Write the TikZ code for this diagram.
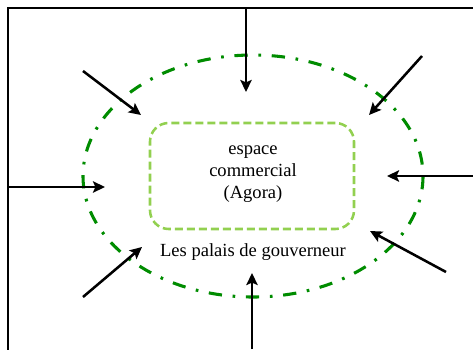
\documentclass[tikz,border=0pt]{standalone}
\usepackage{fontspec}
\setmainfont{Liberation Serif}
\usetikzlibrary{arrows.meta}
\definecolor{dkgreen}{RGB}{0,140,0}
\definecolor{ltgreen}{RGB}{146,208,80}
\tikzset{
  frameline/.style={line width=1.5pt,black},
  outerring/.style={draw=dkgreen,line width=2.3pt,dash pattern=on 10pt off 8pt on 2pt off 8pt},
  agorabox/.style={draw=ltgreen,line width=1.9pt,dash pattern=on 6pt off 3pt,rounded corners=14pt,
    minimum width=153pt,minimum height=79.5pt,align=center,inner sep=0pt,
    font=\fontsize{13.9}{16.5}\selectfont},
  labeltext/.style={font=\fontsize{13.9}{16.5}\selectfont,inner sep=0pt},
  flow/.style={line width=1.9pt,black,-{Stealth[length=9pt,width=8.5pt,inset=1.8pt]}}
}
\begin{document}
\begin{tikzpicture}[x=0.75pt,y=-0.75pt]
\useasboundingbox (0,0) rectangle (473,349);
\draw[frameline] (8,360) -- (8,8) -- (485,8);
\draw[outerring] (253,176) ellipse [x radius=170, y radius=121];
\node[agorabox] (agora) at (252,176) {};
\node[labeltext,align=center] (agoratext) at (253,174) {espace\\commercial\\(Agora)};
\node[labeltext] (palais) at (253,252) {Les palais de gouverneur};
% arrow coordinates
\coordinate (s1) at (246,8);   \coordinate (e1) at (246,92);
\coordinate (s2) at (83,71);   \coordinate (e2) at (141,115);
\coordinate (s3) at (422,56);  \coordinate (e3) at (369,115);
\coordinate (s4) at (8,187);   \coordinate (e4) at (105,187);
\coordinate (s5) at (473,176); \coordinate (e5) at (387,176);
\coordinate (s6) at (83,297);  \coordinate (e6) at (142,247);
\coordinate (s7) at (446,272); \coordinate (e7) at (370,231);
\coordinate (s8) at (252,349); \coordinate (e8) at (252,273);
\foreach \i in {1,...,8} {\draw[flow] (s\i) -- (e\i);}
\end{tikzpicture}
\end{document}
